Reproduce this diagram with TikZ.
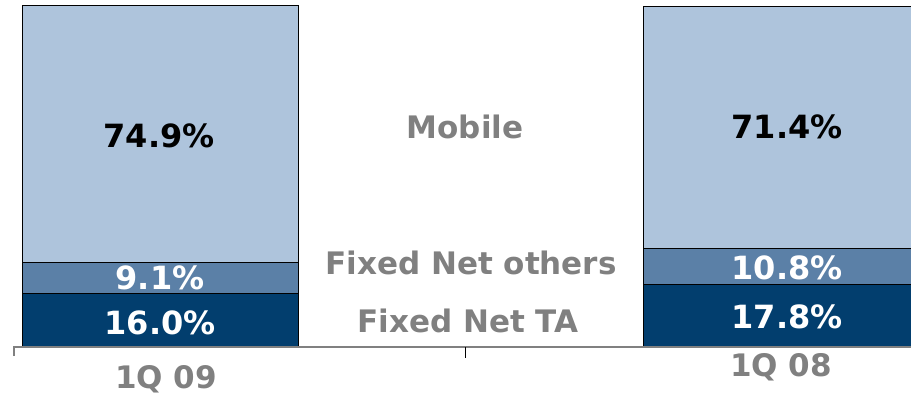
\documentclass[tikz,border=0pt]{standalone}
\usepackage{fontspec}
\setmainfont{DejaVu Sans}
\usepackage{tikz}
\definecolor{mobile}{RGB}{174,196,220}
\definecolor{others}{RGB}{91,128,167}
\definecolor{fixedta}{RGB}{2,62,110}
\definecolor{labelgray}{RGB}{128,128,128}
\tikzset{
  seg/.style={draw=black,line width=0.8pt},
  pct/.style={font=\fontsize{32}{38}\selectfont\bfseries},
  cat/.style={font=\fontsize{31}{37}\selectfont\bfseries,text=labelgray},
}

\begin{document}
\begin{tikzpicture}[x=1pt,y=-1pt]
    \useasboundingbox (0,0) rectangle (911,394);
    \clip (0,0) rectangle (911,394);
    % 1Q 09
    \filldraw[seg,fill=mobile] (22,5) rectangle (298,262);
    \filldraw[seg,fill=others] (22,262) rectangle (298,293);
    \filldraw[seg,fill=fixedta] (22,293) rectangle (298,347);
    % 1Q 08
    \filldraw[seg,fill=mobile] (643,6) rectangle (931,248);
    \filldraw[seg,fill=others] (643,248) rectangle (931,284);
    \filldraw[seg,fill=fixedta] (643,284) rectangle (931,347);
    % axis
    \coordinate (a0) at (14,347);
    \coordinate (a1) at (911,347);
    \coordinate (m) at (465,347);
    \draw[labelgray,line width=2pt] (14,356) -- (a0) -- (a1);
    \draw[black,line width=0.8pt] (m) -- ++(0,11);
    \node[pct] (m09) at (159,136) {74.9\%};
    \node[pct,white] (o09) at (160,278) {9.1\%};
    \node[pct,white] (f09) at (160,323) {16.0\%};
    \node[pct] (m08) at (787,127) {71.4\%};
    \node[pct,white] (o08) at (787,268) {10.8\%};
    \node[pct,white] (f08) at (787,317) {17.8\%};
    \node[cat] (mob) at (465,127) {Mobile};
    \node[cat] (oth) at (471,263) {Fixed Net others};
    \node[cat] (ta) at (468,321) {Fixed Net TA};
    \node[cat] (q09) at (166,379) {1Q 09};
    \node[cat] (q08) at (781,367) {1Q 08};
\end{tikzpicture}
\end{document}
